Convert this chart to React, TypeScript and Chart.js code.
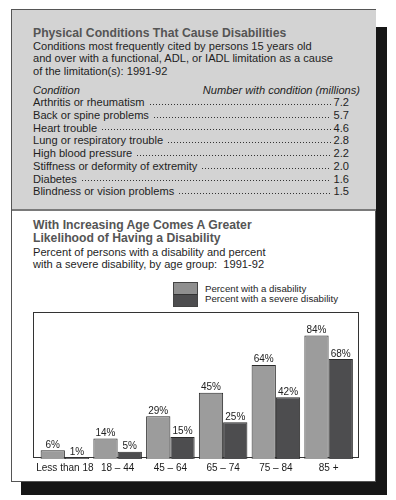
import React, { useEffect, useRef } from "react";
import { Chart, registerables } from "chart.js";

Chart.register(...registerables);

const conditions = [
  "Arthritis or rheumatism",
  "Back or spine problems",
  "Heart trouble",
  "Lung or respiratory trouble",
  "High blood pressure",
  "Stiffness or deformity of extremity",
  "Diabetes",
  "Blindness or vision problems",
];
const conditionValues = ["7.2", "5.7", "4.6", "2.8", "2.2", "2.0", "1.6", "1.5"];

const ageGroups = ["Less than 18", "18 \u2013 44", "45 \u2013 64", "65 \u2013 74", "75 \u2013 84", "85 +"];
const pctDisability = [6, 14, 29, 45, 64, 84];
const pctSevere = [1, 5, 15, 25, 42, 68];
const seriesNames = ["Percent with a disability", "Percent with a severe disability"];

const FONT = "'Liberation Sans', Arial, Helvetica, sans-serif";
const LIGHT = "#9c9c9c";
const DARK = "#4d4d4f";

const valueLabels = {
  id: "valueLabels",
  afterDatasetsDraw(chart: any) {
    const ctx = chart.ctx;
    ctx.save();
    ctx.font = `10px ${FONT}`;
    ctx.fillStyle = "#222";
    ctx.textAlign = "center";
    ctx.textBaseline = "alphabetic";
    chart.data.datasets.forEach((ds: any, i: number) => {
      const meta = chart.getDatasetMeta(i);
      meta.data.forEach((bar: any, j: number) => {
        ctx.fillText(ds.data[j] + "%", bar.x, bar.y - 2.5);
      });
    });
    ctx.restore();
  },
};

function BarChart() {
  const ref = useRef<HTMLCanvasElement>(null);
  useEffect(() => {
    if (!ref.current) return;
    const chart = new Chart(ref.current, {
      type: "bar",
      data: {
        labels: ageGroups,
        datasets: [
          {
            label: seriesNames[0],
            data: pctDisability,
            backgroundColor: LIGHT,
            borderColor: "#2a2a2a",
            borderWidth: 1,
          },
          {
            label: seriesNames[1],
            data: pctSevere,
            backgroundColor: DARK,
            borderColor: "#2a2a2a",
            borderWidth: 1,
          },
        ],
      },
      options: {
        animation: false,
        responsive: false,
        maintainAspectRatio: false,
        layout: { padding: { left: 3, right: 3, top: 0, bottom: 0 } },
        datasets: { bar: { categoryPercentage: 0.92, barPercentage: 1.0 } },
        plugins: { legend: { display: false }, tooltip: { enabled: false } },
        scales: {
          x: {
            grid: { display: false, drawTicks: false },
            border: { display: false },
            ticks: { color: "#1a1a1a", font: { family: FONT, size: 10 }, padding: 3, maxRotation: 0, autoSkip: false },
          },
          y: { display: false, min: 0, max: 100 },
        },
      },
      plugins: [valueLabels],
    });
    return () => chart.destroy();
  }, []);
  return (
    <canvas
      ref={ref}
      width={325}
      height={165}
      style={{ position: "absolute", left: 33, top: 312, width: 325, height: 165 }}
    />
  );
}

const abs = (o: React.CSSProperties): React.CSSProperties => ({ position: "absolute", ...o });

export default function App() {
  const dots: React.CSSProperties = {
    flex: 1,
    margin: "0 3px 0 4px",
    height: 3,
    alignSelf: "flex-end",
    marginBottom: 3,
    backgroundImage: "radial-gradient(circle, #333 0.7px, transparent 1px)",
    backgroundSize: "3px 3px",
    backgroundRepeat: "repeat-x",
  };
  return (
    <div style={abs({ left: 0, top: 0, width: 396, height: 500, background: "#fff", fontFamily: FONT, color: "#1e1e1e", overflow: "hidden" })}>
      {/* shadow */}
      <div style={abs({ left: 21, top: 27, width: 366, height: 468, background: "#161616" })} />
      {/* box */}
      <div style={abs({ left: 10.5, top: 8.5, width: 363.5, height: 471.5, background: "#fff", border: "1.5px solid #555" })} />
      <div style={abs({ left: 12, top: 10, width: 363.5, height: 199, background: "#d3d3d3", borderBottom: "2px solid #7a7a7a" })} />

      {/* top section */}
      <div style={abs({ left: 33, top: 25.5, lineHeight: "14px", fontSize: 12.2, fontWeight: "bold", color: "#555", whiteSpace: "nowrap" })}>
        Physical Conditions That Cause Disabilities
      </div>
      <div style={abs({ left: 33, top: 39.5, lineHeight: "12.5px", fontSize: 11.1, whiteSpace: "nowrap" })}>
        <div>Conditions most frequently cited by persons 15 years old</div>
        <div>and over with a functional, ADL, or IADL limitation as a cause</div>
        <div>of the limitation(s): 1991-92</div>
      </div>
      <div style={abs({ left: 33, top: 83.6, width: 327, lineHeight: "12.7px", fontSize: 11.1 })}>
        <div style={{ display: "flex", justifyContent: "space-between", fontStyle: "italic", whiteSpace: "nowrap" }}>
          <span>Condition</span>
          <span>Number with condition (millions)</span>
        </div>
        {conditions.map((c, i) => (
          <div key={c} style={{ display: "flex", width: 316 }}>
            <span style={{ whiteSpace: "nowrap" }}>{c}</span>
            <span style={dots} />
            <span>{conditionValues[i]}</span>
          </div>
        ))}
      </div>

      {/* bottom section */}
      <div style={abs({ left: 33, top: 218.9, lineHeight: "13.6px", fontSize: 12.2, fontWeight: "bold", color: "#555", whiteSpace: "nowrap" })}>
        <div>With Increasing Age Comes A Greater</div>
        <div>Likelihood of Having a Disability</div>
      </div>
      <div style={abs({ left: 33, top: 246.3, lineHeight: "12px", fontSize: 11.1, whiteSpace: "nowrap" })}>
        <div>Percent of persons with a disability and percent</div>
        <div>with a severe disability, by age group:&nbsp; 1991-92</div>
      </div>

      {/* legend */}
      <div style={abs({ left: 173, top: 282, width: 23, height: 11, background: "#8f8f8f", border: "1px solid #444", borderBottom: "none" })} />
      <div style={abs({ left: 173, top: 294, width: 23, height: 11, background: DARK, border: "1px solid #444", borderTop: "1px solid #333" })} />
      <div style={abs({ left: 205, top: 283.8, lineHeight: "10.3px", fontSize: 9.7, whiteSpace: "nowrap" })}>
        <div>{seriesNames[0]}</div>
        <div>{seriesNames[1]}</div>
      </div>

      {/* chart frame */}
      <div style={abs({ left: 33, top: 312, width: 324, height: 144, border: "1px solid #333" })} />
      <BarChart />
    </div>
  );
}
